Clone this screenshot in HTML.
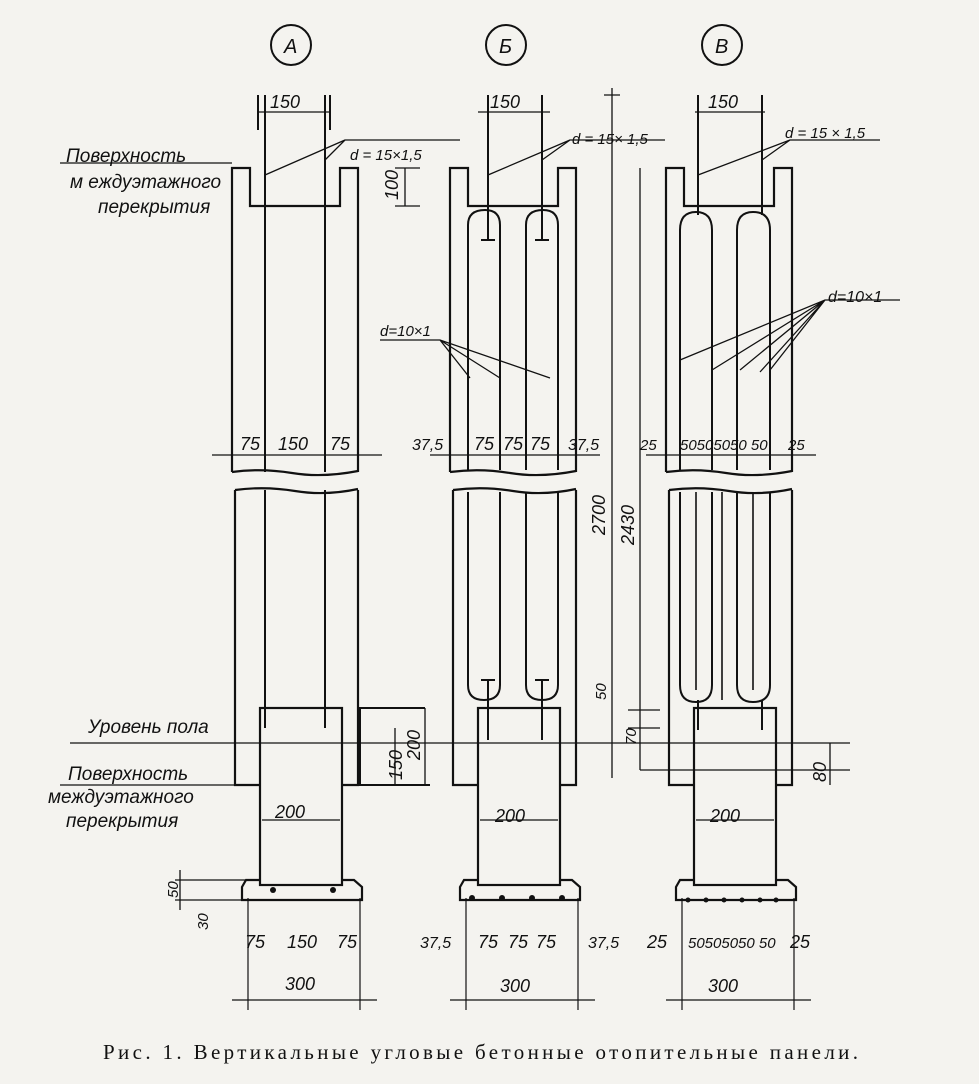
<!DOCTYPE html>
<html><head><meta charset="utf-8"><style>
html,body{margin:0;padding:0;background:#f4f3ef;}
svg{display:block}
text{font-family:"Liberation Sans",sans-serif;font-style:italic;fill:#111}
.c{font-family:"Liberation Serif",serif;font-style:normal}
</style></head><body>
<svg width="979" height="1084" viewBox="0 0 979 1084" xmlns="http://www.w3.org/2000/svg">
<defs>
<g id="shell" fill="none" stroke="#111" stroke-width="2.2">
  <path d="M0,472 V168 H18 V206 H108 V168 H126 V472"/>
  <path d="M0,472 Q30,468 60,473 T126,471"/>
  <path d="M3,490 Q33,486 63,491 T126,489"/>
  <path d="M3,490 V785 H28 M126,490 V785 H110"/>
  <rect x="28" y="708" width="82" height="177"/>
  <path d="M28,880 H14 L10,887 V900 H130 V887 L122,880 H110"/>
  <path d="M16,898 V1010 M128,898 V1010" stroke-width="1.2"/>
  <path d="M0,1000 H145" stroke-width="1.2"/>
  <path d="M30,820 H108" stroke-width="1.2"/>
  <path d="M-20,455 H150" stroke-width="1.2"/>
</g>
</defs>
<rect width="979" height="1084" fill="#f4f3ef"/>
<g fill="none" stroke="#111" stroke-width="2">
  <circle cx="291" cy="45" r="20"/><circle cx="506" cy="45" r="20"/><circle cx="722" cy="45" r="20"/>
</g>
<text x="284" y="53" font-size="20">А</text>
<text x="499" y="53" font-size="20">Б</text>
<text x="715" y="53" font-size="20">В</text>

<use href="#shell" x="232"/>
<use href="#shell" x="450"/>
<use href="#shell" x="666"/>

<g fill="none" stroke="#111" stroke-width="2">
  <path d="M265,95 V472 M325,95 V472 M265,490 V728 M325,490 V728"/>
  <path d="M258,95 V130 M330,95 V130"/>
  <path d="M358,708 H425 M345,785 H430 M360,708 V785"/>
  <path d="M488,95 V240 M481,240 H495 M542,95 V240 M535,240 H549"/>
  <path d="M468,470 V225 Q468,210 485,210 Q500,210 500,225 V470"/>
  <path d="M526,470 V225 Q526,210 543,210 Q558,210 558,225 V470"/>
  <path d="M468,492 V685 Q468,700 484,700 Q500,700 500,685 V492"/>
  <path d="M526,492 V685 Q526,700 542,700 Q558,700 558,685 V492"/>
  <path d="M488,680 V740 M481,680 H495 M542,680 V740 M535,680 H549"/>
  <path d="M698,95 V215 M762,95 V215"/>
  <path d="M680,470 V230 Q680,212 696,212 Q712,212 712,230 V470"/>
  <path d="M737,470 V230 Q737,212 753,212 Q770,212 770,230 V470"/>
  <path d="M680,492 V685 Q680,702 696,702 Q712,702 712,685 V492"/>
  <path d="M737,492 V685 Q737,702 753,702 Q770,702 770,685 V492"/>
  <path d="M696,492 V690 M753,492 V690 M722,492 V700" stroke-width="1.6"/>
  <path d="M698,700 V730 M762,700 V730"/>
</g>
<g fill="none" stroke="#111" stroke-width="1.3">
  <path d="M70,743 H850"/>
  <path d="M612,88 V778 M604,95 H620 M640,168 V770 M628,710 H660 M628,728 H660 M640,770 H850"/>
  <path d="M258,112 H330 M478,112 H550 M695,112 H765"/>
  <path d="M325,160 L345,140 H460 M265,175 L345,140"/>
  <path d="M542,160 L570,140 H665 M488,175 L570,140"/>
  <path d="M762,160 L790,140 H880 M698,175 L790,140"/>
  <path d="M380,340 H440 L550,378 M440,340 L500,378 M440,340 L470,378"/>
  <path d="M900,300 H825 L680,360 M825,300 L712,370 M825,300 L740,370 M825,300 L760,372 M825,300 L770,370"/>
  <path d="M405,168 V206 M395,168 H420 M395,206 H420"/>
  <path d="M425,708 V785 M395,728 V785 M830,743 V785"/>
  <path d="M180,870 V910 M175,880 H245 M175,900 H245"/>
  <path d="M60,163 H232 M60,785 H235"/>
</g>
<g fill="#111">
  <circle cx="273" cy="890" r="3"/><circle cx="333" cy="890" r="3"/>
  <circle cx="472" cy="898" r="3"/><circle cx="502" cy="898" r="3"/><circle cx="532" cy="898" r="3"/><circle cx="562" cy="898" r="3"/>
  <circle cx="688" cy="900" r="2.5"/><circle cx="706" cy="900" r="2.5"/><circle cx="724" cy="900" r="2.5"/><circle cx="742" cy="900" r="2.5"/><circle cx="760" cy="900" r="2.5"/><circle cx="776" cy="900" r="2.5"/>
</g>
<g font-size="18">
  <text x="270" y="108">150</text><text x="490" y="108">150</text><text x="708" y="108">150</text>
  <text x="350" y="160" font-size="15">d = 15×1,5</text>
  <text x="572" y="144" font-size="15">d = 15× 1,5</text>
  <text x="785" y="138" font-size="15">d = 15 × 1,5</text>
  <text x="380" y="336" font-size="15">d=10×1</text>
  <text x="828" y="302" font-size="16">d=10×1</text>
  <text x="66" y="162" font-size="19">Поверхность</text>
  <text x="70" y="188" font-size="19">м еждуэтажного</text>
  <text x="98" y="213" font-size="19">перекрытия</text>
  <text x="88" y="733" font-size="19">Уровень пола</text>
  <text x="68" y="780" font-size="19">Поверхность</text>
  <text x="48" y="803" font-size="19">междуэтажного</text>
  <text x="66" y="827" font-size="19">перекрытия</text>
  <text x="240" y="450">75</text><text x="278" y="450">150</text><text x="330" y="450">75</text>
  <text x="412" y="450" font-size="16">37,5</text><text x="474" y="450">75</text><text x="503" y="450">75</text><text x="530" y="450">75</text><text x="568" y="450" font-size="16">37,5</text>
  <text x="640" y="450" font-size="15">25</text><text x="680" y="450" font-size="15">50505050 50</text><text x="788" y="450" font-size="15">25</text>
  <text x="275" y="818">200</text><text x="495" y="822">200</text><text x="710" y="822">200</text>
  <text x="245" y="948">75</text><text x="287" y="948">150</text><text x="337" y="948">75</text>
  <text x="420" y="948" font-size="16">37,5</text><text x="478" y="948">75</text><text x="508" y="948">75</text><text x="536" y="948">75</text><text x="588" y="948" font-size="16">37,5</text>
  <text x="647" y="948">25</text><text x="688" y="948" font-size="15">50505050 50</text><text x="790" y="948">25</text>
  <text x="285" y="990">300</text><text x="500" y="992">300</text><text x="708" y="992">300</text>
  <text transform="translate(398,200) rotate(-90)">100</text>
  <text transform="translate(605,535) rotate(-90)">2700</text>
  <text transform="translate(634,545) rotate(-90)">2430</text>
  <text transform="translate(402,780) rotate(-90)">150</text>
  <text transform="translate(420,760) rotate(-90)">200</text>
  <text transform="translate(606,700) rotate(-90)" font-size="15">50</text>
  <text transform="translate(636,745) rotate(-90)" font-size="15">70</text>
  <text transform="translate(826,782) rotate(-90)">80</text>
  <text transform="translate(178,898) rotate(-90)" font-size="15">50</text>
  <text transform="translate(208,930) rotate(-90)" font-size="15">30</text>
</g>
<text class="c" x="103" y="1059" font-size="21" textLength="755" lengthAdjust="spacing">Рис. 1. Вертикальные угловые бетонные отопительные панели.</text>
</svg>
</body></html>
